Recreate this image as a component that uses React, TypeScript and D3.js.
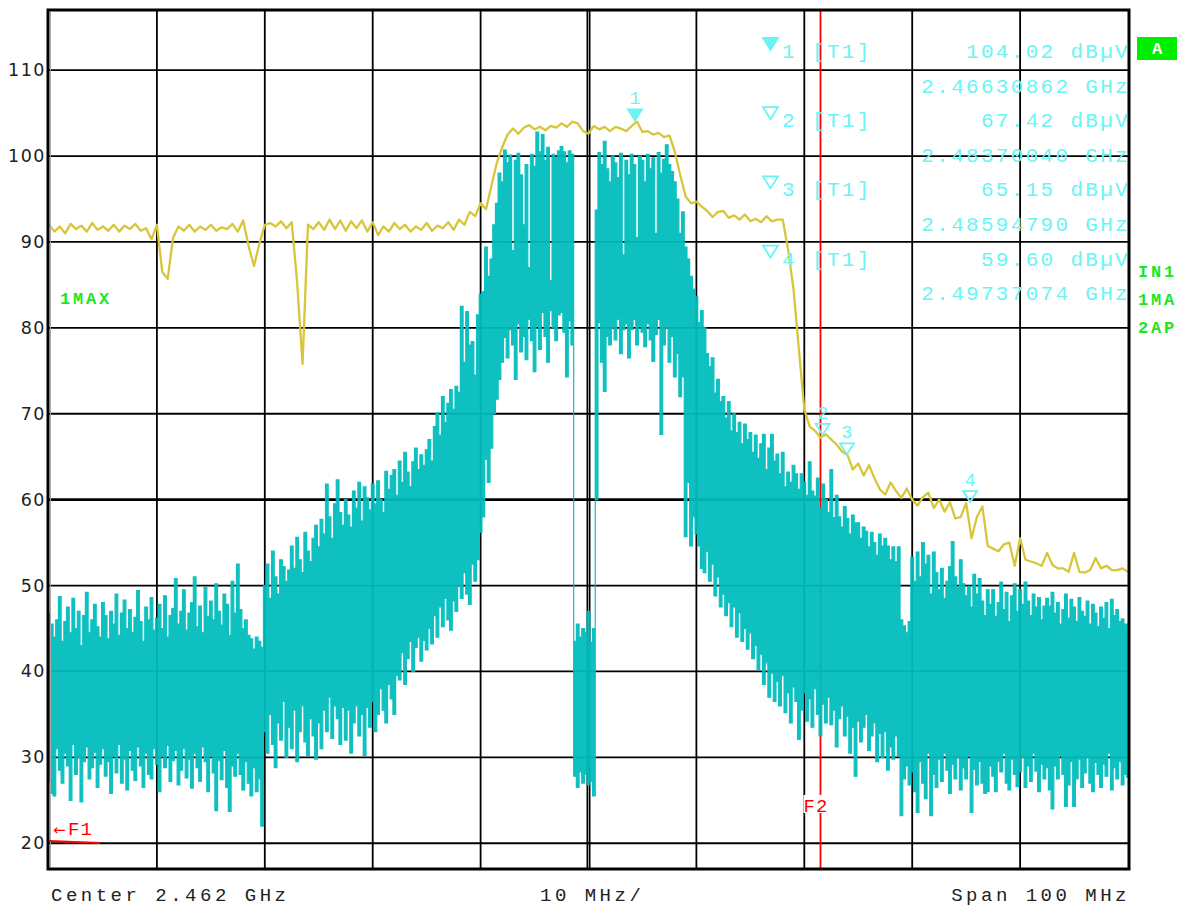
import * as d3 from 'd3';
import React, { useEffect, useRef } from 'react';

// sweep: center 2.462 GHz, span 100 MHz, ref level 117 dBuV, 10 dB/div
const startMHz = 2412
const stopMHz = 2512
const levelTop = 117
const levelBottom = 17

// trace 1 (max hold), one point every 0.5 MHz
const maxHoldStep = 0.5
const maxHold = [
  92, 91.2, 91.8, 91, 92.1, 91.5, 91.9, 91.2, 92.2, 91.4,
  91.8, 91.3, 92, 91.2, 91.9, 91.5, 92.1, 91.3, 91.6, 90.3,
  92, 86.5, 85.7, 90.5, 91.8, 91.3, 92, 91.2, 91.8, 91.4,
  92, 91.3, 91.7, 91.5, 92.1, 91.2, 92.5, 89.5, 87.2, 89.8,
  92, 92.2, 91.8, 92.4, 91.6, 92.3, 85.2, 75.8, 92, 91.5,
  92.3, 91.4, 92.6, 91.5, 92.5, 91.3, 92.4, 91.6, 92.5, 91.2,
  92.3, 90.8, 91.8, 91.2, 92.2, 91.5, 92, 91.2, 91.8, 91.4,
  92.2, 91.3, 91.9, 91.6, 92.3, 91.4, 92.6, 92, 93.5, 93,
  94.5, 93.8, 96.5, 99.2, 101, 102.5, 103.2, 102.6, 103.3, 103.6,
  103.1, 103.4, 103, 103.5, 103.3, 103.8, 103.4, 104, 103.8, 102.9,
  102.6, 103.5, 103.1, 103.4, 102.9, 103.4, 103.2, 102.9, 103.5, 104,
  102.8, 102.9, 102.5, 102.7, 102.2, 102.4, 100.5, 97.8, 95.3, 94.5,
  94.7, 94.1, 93.6, 92.9, 93.5, 93.6, 92.8, 93.1, 92.6, 93.2,
  92.4, 92.7, 92.3, 93, 92.4, 92.6, 92.6, 89.1, 84.5, 77.5,
  70.5, 68.5, 68, 67.2, 67.6, 67, 66.4, 65.6, 65.2, 63.5,
  64.2, 62.8, 64, 62.5, 61.2, 60.6, 62, 61, 60.2, 61.3,
  60, 59.3, 60.3, 60.8, 59, 60, 58.6, 59.7, 57.8, 58,
  59.6, 55.5, 58, 59.2, 54.6, 54.3, 54, 54.8, 55, 52.3,
  55.5, 53, 52.8, 52.6, 52.3, 53.8, 52.4, 52, 52, 51.6,
  53.8, 51.6, 51.5, 51.8, 53.2, 52, 52.3, 51.8, 51.8, 52,
  51.6
]

// trace 2 (clear write), peak and pit of every 0.25 MHz bin
const clearStep = 0.25
const clearMax = [
  // 0 - 20 MHz
  46.7, 45.5, 44, 46, 48.7, 43.5, 45.8, 47.5, 44.5, 48.5,
  45, 47, 43, 46.5, 49.2, 44.5, 46, 47.8, 45.2, 44,
  48, 46.5, 43.8, 47, 45.5, 49, 44.2, 46.8, 48.3, 45,
  47.2, 44.5, 46.3, 49.4, 45.8, 43.5, 47.5, 46, 48.6, 44.8,
  46.2, 47.8, 45, 48.8, 44, 46.5, 47.3, 50.8, 45.5, 47,
  49.5, 44.8, 46.8, 48, 51, 45.2, 47.6, 44.5, 49.8, 46.4,
  48.2, 46, 50.2, 47, 45.4, 49, 47.8, 44.2, 50.5, 46.8,
  52.5, 47.2, 45, 46, 44.2, 43.8, 42.6, 44, 43.5, 42.8,
  // 20 - 40 MHz
  50, 52.5, 48.5, 54, 51, 49, 53, 52.2, 50.5, 51.8,
  54.6, 52, 55.6, 53, 51.5, 56.2, 54, 52.8, 55.5, 57,
  54.5, 57.7, 56, 61.8, 58, 55.5, 59.5, 62.3, 58.5, 57,
  60, 58.2, 56.8, 61, 59, 62, 57.5, 61.5, 60.2, 58.8,
  61.8, 59.5, 62.2, 60, 58.5, 63.3, 61.2, 62.8, 63.5, 60.5,
  64.5, 62, 65.5, 63.2, 61.5, 64.4, 66, 63.5, 65.2, 64,
  65.8, 67, 64.5, 68.5, 70.1, 67.5, 72, 69, 71.2, 72.8,
  70.5, 73.2, 72.5, 82.5, 76, 81.9, 78, 78.4, 74.5, 81.5,
  // 40 - 48.75 MHz (lower channel)
  83.9, 84.2, 89.4, 86, 88, 92, 94.5, 98, 97, 100.7,
  99.2, 100.1, 89, 99.5, 100.3, 97.8, 92, 99, 87, 100.2,
  98.8, 102.8, 100.5, 102.5, 99.5, 101, 85.5, 100.2, 99.8, 100.6,
  101.1, 100.5, 99.2, 100.6, 100.2,
  // gap between the channels
  43.5, 45.5, 44, 45, 44.5, 47, 43.4, 45,
  // 50.75 - 60 MHz (upper channel)
  93.7, 100.4, 99, 101.7, 98.5, 97, 100,
  99.2, 97.5, 100.3, 88.5, 99.5, 97.8, 100.2, 99, 90.5, 100,
  99.5, 97, 100.2, 98.5, 99.8, 91, 100.4, 98, 99.6, 101.3,
  99, 98.2, 97, 95, 91, 93.5, 89.4, 88, 86, 84.5,
  // 60 - 79 MHz
  83.6, 80.6, 82, 80, 77, 75.5, 76.5, 72.4, 74, 71.4,
  72, 69.5, 71.4, 68, 70, 67.8, 69, 66.5, 68.8, 67,
  67.8, 65.5, 67.5, 64.8, 66.5, 67.6, 63.5, 66, 67.6, 64.5,
  65.3, 63, 65.5, 61.5, 63.2, 62, 64, 63, 61.2, 63,
  62, 60.5, 64.4, 61, 60.4, 62.5, 59, 61.8, 60, 58.5,
  63.5, 57.9, 60.5, 58, 56.8, 59.2, 57.8, 56, 58.2, 57.3,
  57.3, 55.5, 56.8, 56.3, 54.5, 56.2, 55, 53.5, 56, 54.6,
  55.5, 54.6, 53, 54.5, 52.8, 54.5,
  // 79 - 100 MHz
  46, 45.3, 44.5, 45.8,
  53.3, 50.5, 53.9, 51, 55, 52.5, 53.5, 49, 53.9, 51.5,
  49.5, 52, 48.5, 50.5, 52.2, 55.1, 51, 49.8, 53, 50.2,
  48.8, 49.9, 47.5, 51.3, 49, 50.8, 48.2, 46.5, 49.5, 47.8,
  49.5, 46.4, 48, 50.4, 47.2, 49.2, 45.8, 48.8, 50.2, 47,
  49.5, 47.8, 50.4, 48.2, 46.5, 49, 47.5, 48.6, 46, 47.6,
  48.5, 47.6, 49.2, 46.8, 48, 45.5, 47.2, 49, 46.2, 48.4,
  47.5, 45.8, 48.6, 47, 46.4, 48.2, 45.5, 47.8, 46.8, 45.2,
  47.5, 46.2, 48, 45, 48.4, 46.5, 47.2, 45.8, 46.1, 45.5,
  45.5
]
const clearMin = [
  // 0 - 20 MHz
  27.2, 25.8, 25.5, 31, 28.5, 27, 30.5, 29, 25, 31.5,
  28, 30, 24.8, 29.5, 31.2, 27.5, 28.8, 30.6, 26.5, 29.2,
  31, 27.8, 29.5, 25.8, 30.2, 28.2, 31.5, 27, 29.8, 26.2,
  30.8, 28.5, 27.3, 31.2, 29, 26.5, 30.5, 28, 27.5, 31,
  29.2, 26, 30.2, 28.8, 31.4, 27.2, 29.6, 30.8, 26.8, 28.5,
  31, 27.6, 29.8, 26.4, 30.5, 28.8, 27.2, 31.2, 29.5, 26,
  30.2, 28.2, 23.8, 29.6, 27.4, 30.8, 26.5, 23.7, 29, 27.8,
  30.5, 28, 26.2, 29.5, 27, 25.5, 28.8, 26, 27.5, 22,
  // 20 - 40 MHz
  33, 30.5, 35, 31.5, 28.8, 34, 32, 36.5, 30, 33.5,
  31, 35.5, 29.5, 33, 36, 31.8, 30.2, 34.5, 32.5, 29.8,
  34, 31, 35.5, 33, 37, 32.2, 36, 34.5, 31.5, 35.8,
  32, 35.5, 30.5, 34, 36, 32.5, 35, 30.2, 35.8, 33.5,
  36.5, 33, 35, 38, 35.5, 34, 38.5, 36.8, 35, 39.5,
  39, 42.2, 38.5, 41.5, 43.5, 40, 42.8, 44, 41.2, 43.6,
  42.5, 45, 43.2, 46.5, 44, 47.5, 45.2, 48.5, 46, 44.8,
  48.2, 47, 50, 48.5, 51.5, 49, 47.8, 52.5, 50.5, 53,
  // 40 - 48.75 MHz (lower channel)
  56.2, 58, 64.7, 62, 66, 70, 71.7, 74, 76, 78.9,
  76.5, 79.8, 78, 74, 80.5, 77.2, 79, 76.3, 81, 78.5,
  74.9, 80.2, 77.5, 81.8, 79, 76, 82, 80, 78.5, 81.5,
  81.8, 79.5, 74.3, 80.8, 78,
  // gap between the channels
  27.8, 26.5, 28.3, 27, 28, 26.8, 27.2, 25.5,
  // 50.75 - 60 MHz (upper channel)
  60, 80.6, 76, 72.6, 79, 78, 80,
  78.6, 81, 77, 79.8, 80.5, 76.5, 79.8, 81, 78, 80.2,
  79.5, 77.8, 80.5, 78.6, 76.1, 79.2, 81, 67.6, 78, 80,
  76, 79, 74.3, 77, 72, 74.3, 55.7, 62, 54.6, 58,
  // 60 - 79 MHz
  56, 54.6, 52, 51.5, 54, 50.5, 52.5, 48.8, 51, 47.5,
  49, 46.5, 48, 45.2, 47.5, 44, 46.8, 43.5, 45, 42.6,
  44.5, 41.5, 43, 40.2, 42, 38.5, 41, 37, 39.8, 36.5,
  38.8, 36, 39.5, 35.2, 37.5, 34, 38.2, 36.5, 32.1, 35.5,
  37.5, 34.2, 36.8, 33.5, 38, 35, 32.5, 36.2, 34, 37,
  33.8, 35.5, 31.2, 34.5, 36, 32.5, 34.8, 30.5, 33.5, 27.8,
  34.2, 31.8, 33.5, 35, 30.8, 32.5, 34, 29.5, 32.8, 30,
  33, 28.5, 31.2, 29.8, 32.5, 30.2,
  // 79 - 100 MHz
  23.2, 27.5, 29, 26.8,
  28.3, 26, 23.6, 29.5, 27, 25.2, 30.5, 23.2, 28, 26.5,
  29.8, 27.2, 30.5, 28.5, 25.8, 29.2, 27.5, 30, 26.2, 28.8,
  27.5, 30.2, 23.6, 28.6, 26.8, 29.5, 27, 25.8, 26, 29,
  27.8, 26, 29.5, 28.3, 30.5, 27, 26.2, 29.8, 28, 26.6,
  28.3, 30, 26.5, 29, 27.2, 30.5, 28.4, 26, 29.2, 27.5,
  28.8, 26.2, 24, 29, 27.5, 30.2, 28, 24.3, 26.8, 29.5,
  24.3, 27.5, 29.8, 26.5, 28.2, 30, 27, 26, 29.4, 28,
  26.5, 29.2, 27.8, 30.5, 26.2, 28.8, 27.5, 29.5, 26.8, 28,
  27.7
]

// markers (all on trace 1)
const markerFreqsGHz = [2.46630862, 2.48370040, 2.48594790, 2.49737074]
const markerLevels = [104.02, 67.42, 65.15, 59.60]
const markerTraces = ['T1', 'T1', 'T1', 'T1']

const yTickLabels = [20, 30, 40, 50, 60, 70, 80, 90, 100, 110]
const f2MHz = 2483.5

const sideLabels = ['IN1', '1MA', '2AP']

const W = 1179, H = 906
const left = 49, right = 1128, top = 10, bottom = 869

const cyan = '#00bdbd'
const yellow = '#d8c63a'
const markerCol = '#6af4f4'
const green = '#1ee61e'
const mono = '"Liberation Mono", "Courier New", monospace'

export default function App() {
  const ref = useRef(null)

  useEffect(() => {
    const svg = d3.select(ref.current)
    svg.selectAll('*').remove()

    const x = d3.scaleLinear().domain([startMHz, stopMHz]).range([left, right])
    const y = d3.scaleLinear().domain([levelBottom, levelTop]).range([bottom, top])

    svg.append('rect').attr('width', W).attr('height', H).attr('fill', '#fff')

    svg.append('clipPath').attr('id', 'plotclip')
      .append('rect')
      .attr('x', left).attr('y', top)
      .attr('width', right - left).attr('height', bottom - top)

    // grid
    const grid = svg.append('g')
    const vlines = d3.range(startMHz + 10, stopMHz, 10)
    grid.selectAll('line.v').data(vlines).enter().append('line')
      .attr('x1', d => x(d)).attr('x2', d => x(d))
      .attr('y1', top).attr('y2', bottom)
      .attr('stroke', '#000')
      .attr('stroke-width', d => d === 2462 ? 4 : 1.8)
    grid.append('line')
      .attr('x1', x(2462)).attr('x2', x(2462)).attr('y1', top).attr('y2', bottom)
      .attr('stroke', '#999').attr('stroke-width', 1)

    grid.selectAll('line.h').data(yTickLabels).enter().append('line')
      .attr('x1', left).attr('x2', right)
      .attr('y1', d => y(d)).attr('y2', d => y(d))
      .attr('stroke', '#000')
      .attr('stroke-width', d => d === 60 ? 2.8 : 1.8)

    // y labels
    svg.selectAll('text.ylab').data(yTickLabels).enter().append('text')
      .attr('x', 46).attr('y', d => y(d) + 6)
      .attr('text-anchor', 'end')
      .attr('font-family', '"DejaVu Sans", sans-serif')
      .attr('font-size', 17.5)
      .attr('letter-spacing', 1.5)
      .attr('fill', '#222')
      .text(d => d)

    // F2 frequency line
    svg.append('line')
      .attr('x1', x(2483.5)).attr('x2', x(f2MHz)).attr('y1', top + 1).attr('y2', bottom - 1)
      .attr('stroke', '#ff0000').attr('stroke-width', 1.8)

    const plot = svg.append('g').attr('clip-path', 'url(#plotclip)')

    const line1 = d3.line<number>()
      .x((d, i) => x(startMHz + i * maxHoldStep))
      .y(d => y(d))

    // trace 2 drawn as min/max columns like the analyzer does
    const band = d3.area<number>()
      .x((d, i) => x(startMHz + i * clearStep))
      .y0((d, i) => y(clearMin[i]))
      .y1(d => y(d))
      .curve(d3.curveStep)

    plot.append('path').datum(maxHold)
      .attr('d', line1)
      .attr('fill', 'none').attr('stroke', yellow).attr('stroke-width', 2.3)
      .attr('stroke-linejoin', 'round')

    plot.append('g').attr('opacity', 0.94)
      .append('path').datum(clearMax)
      .attr('d', band)
      .attr('fill', cyan).attr('stroke', cyan).attr('stroke-width', 1.2)

    // frame
    svg.append('rect')
      .attr('x', left - 1).attr('y', top).attr('width', right - left + 2).attr('height', bottom - top)
      .attr('fill', 'none').attr('stroke', '#000').attr('stroke-width', 3)
    svg.append('line')
      .attr('x1', left + 1.5).attr('x2', left + 1.5).attr('y1', top + 2).attr('y2', bottom - 2)
      .attr('stroke', '#aaa').attr('stroke-width', 1)

    // F2 label over the traces
    const f2x = x(f2MHz)
    svg.append('rect').attr('x', f2x - 17).attr('y', 795).attr('width', 30).attr('height', 18).attr('fill', '#fff')
    svg.append('text')
      .attr('x', f2x - 17).attr('y', 812)
      .attr('font-family', mono).attr('font-size', 19).attr('letter-spacing', 1)
      .attr('fill', '#ff0000').text('F2')

    // F1 is below the sweep start
    svg.append('line')
      .attr('x1', left).attr('y1', 841).attr('x2', 100).attr('y2', 843)
      .attr('stroke', '#ff0000').attr('stroke-width', 2)
    svg.append('text')
      .attr('x', 53).attr('y', 835)
      .attr('font-family', '"DejaVu Sans", sans-serif').attr('font-size', 15)
      .attr('fill', '#ff0000').text('←')
    svg.append('text')
      .attr('x', 68).attr('y', 835)
      .attr('font-family', mono).attr('font-size', 19).attr('letter-spacing', 1)
      .attr('fill', '#ff0000').text('F1')

    // markers on the trace
    const mk = svg.append('g')
    markerFreqsGHz.forEach((f, i) => {
      const mx = x(f * 1000)
      const my = y(markerLevels[i])
      mk.append('path')
        .attr('d', `M${mx - 7},${my - 12}L${mx + 7},${my - 12}L${mx},${my - 1}Z`)
        .attr('fill', i === 0 ? markerCol : 'none')
        .attr('stroke', markerCol).attr('stroke-width', 1.8)
      mk.append('text')
        .attr('x', mx).attr('y', my - 17)
        .attr('text-anchor', 'middle')
        .attr('font-family', mono).attr('font-size', 18)
        .attr('fill', markerCol).text(i + 1)
    })

    // marker info block
    const info = svg.append('g')
      .attr('font-family', mono).attr('font-size', 21).attr('letter-spacing', 2.3)
      .attr('fill', markerCol)
    markerFreqsGHz.forEach((f, i) => {
      const base = 58 + i * 69.2
      info.append('path')
        .attr('d', `M763,${base - 20}L778,${base - 20}L770.5,${base - 8}Z`)
        .attr('fill', i === 0 ? markerCol : 'none')
        .attr('stroke', markerCol).attr('stroke-width', 1.8)
      info.append('text').attr('x', 782).attr('y', base).text(i + 1)
      info.append('text').attr('x', 812).attr('y', base).text('[' + markerTraces[i] + ']')
      info.append('text').attr('x', 1130).attr('y', base).attr('text-anchor', 'end')
        .text(markerLevels[i].toFixed(2) + ' dBµV')
      info.append('text').attr('x', 1130).attr('y', base + 34.6).attr('text-anchor', 'end')
        .text(f.toFixed(8) + ' GHz')
    })

    // status labels
    const st = svg.append('g')
      .attr('font-family', mono).attr('font-weight', 'bold').attr('font-size', 17)
      .attr('letter-spacing', 2.8).attr('fill', green)
    st.append('text').attr('x', 60).attr('y', 304).text('1MAX')
    sideLabels.forEach((s, i) => {
      st.append('text').attr('x', 1138).attr('y', 277 + i * 28).text(s)
    })
    svg.append('rect').attr('x', 1137).attr('y', 37).attr('width', 40).attr('height', 23).attr('fill', '#00ee00')
    svg.append('text').attr('x', 1157).attr('y', 54).attr('text-anchor', 'middle')
      .attr('font-family', mono).attr('font-weight', 'bold').attr('font-size', 17)
      .attr('fill', '#fff').text('A')

    // bottom annotation
    const ann = svg.append('g')
      .attr('font-family', mono).attr('font-size', 19).attr('letter-spacing', 3.5)
      .attr('fill', '#222')
    ann.append('text').attr('x', 51).attr('y', 901).text('Center ' + ((startMHz + stopMHz) / 2000).toFixed(3) + ' GHz')
    ann.append('text').attr('x', 540).attr('y', 901).text('10 MHz/')
    ann.append('text').attr('x', 1130).attr('y', 901).attr('text-anchor', 'end')
      .text('Span ' + (stopMHz - startMHz) + ' MHz')
  }, [])

  return <svg ref={ref} width={W} height={H}
    style={{ position: 'absolute', left: 0, top: 0, display: 'block' }} />
}
